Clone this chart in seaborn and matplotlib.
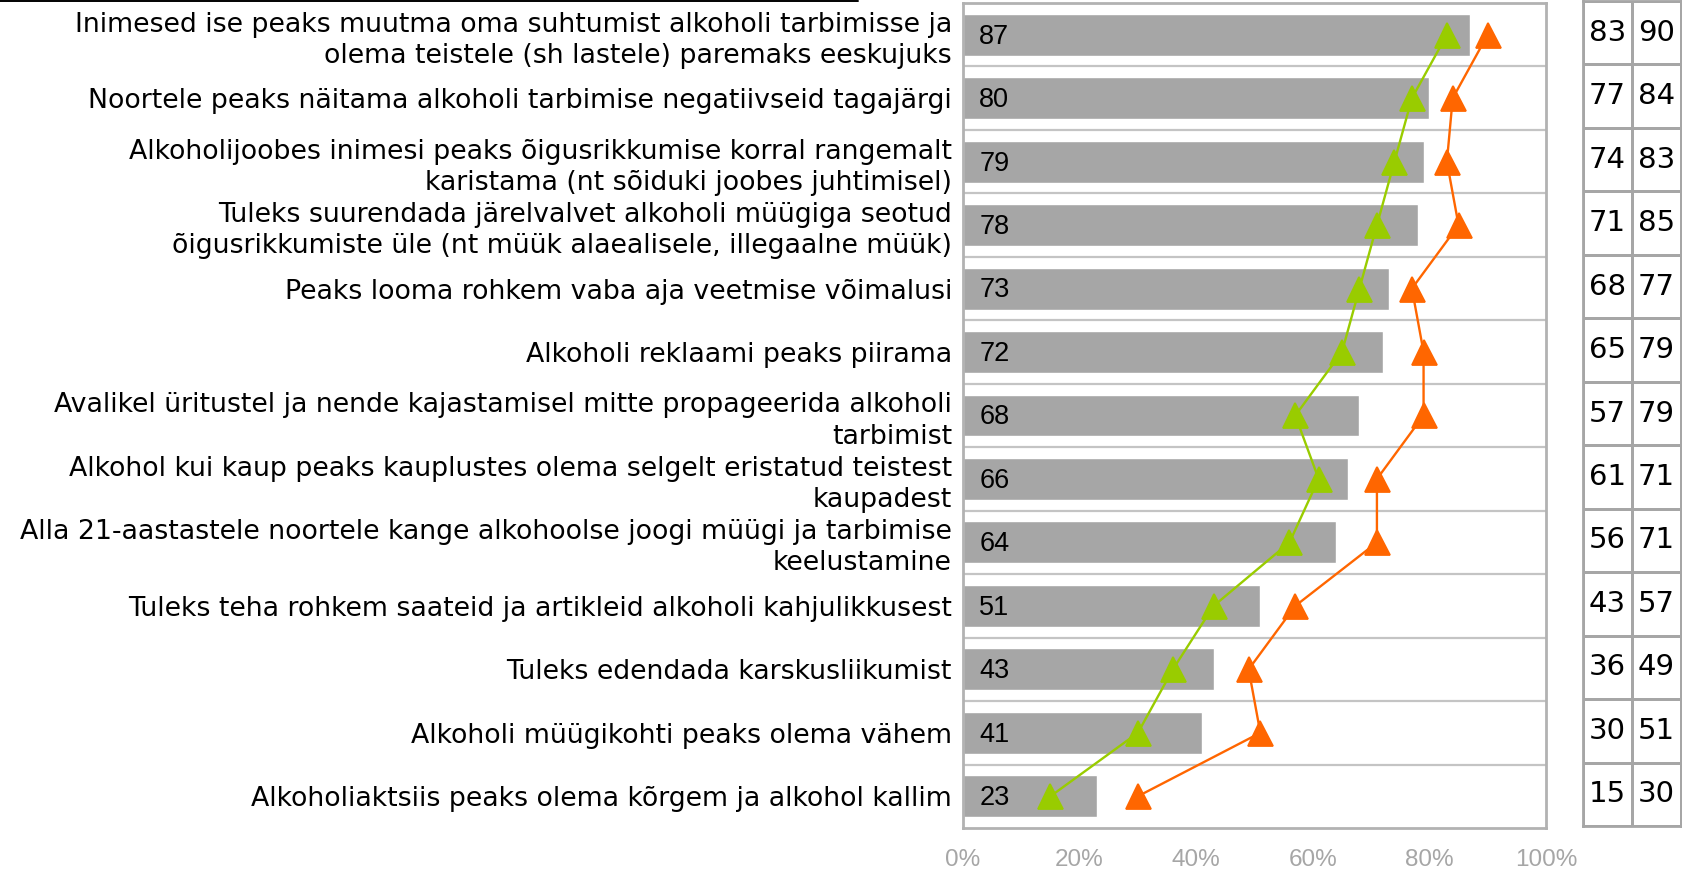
import matplotlib
matplotlib.use("Agg")
import matplotlib.pyplot as plt
from matplotlib.colors import ListedColormap
from matplotlib.lines import Line2D
import pandas as pd
import seaborn as sns

categories = [
    "Inimesed ise peaks muutma oma suhtumist alkoholi tarbimisse ja\nolema teistele (sh lastele) paremaks eeskujuks",
    "Noortele peaks näitama alkoholi tarbimise negatiivseid tagajärgi",
    "Alkoholijoobes inimesi peaks õigusrikkumise korral rangemalt\nkaristama (nt sõiduki joobes juhtimisel)",
    "Tuleks suurendada järelvalvet alkoholi müügiga seotud\nõigusrikkumiste üle (nt müük alaealisele, illegaalne müük)",
    "Peaks looma rohkem vaba aja veetmise võimalusi",
    "Alkoholi reklaami peaks piirama",
    "Avalikel üritustel ja nende kajastamisel mitte propageerida alkoholi\ntarbimist",
    "Alkohol kui kaup peaks kauplustes olema selgelt eristatud teistest\nkaupadest",
    "Alla 21-aastastele noortele kange alkohoolse joogi müügi ja tarbimise\nkeelustamine",
    "Tuleks teha rohkem saateid ja artikleid alkoholi kahjulikkusest",
    "Tuleks edendada karskusliikumist",
    "Alkoholi müügikohti peaks olema vähem",
    "Alkoholiaktsiis peaks olema kõrgem ja alkohol kallim",
]
total = [87, 80, 79, 78, 73, 72, 68, 66, 64, 51, 43, 41, 23]
group_a = [83, 77, 74, 71, 68, 65, 57, 61, 56, 43, 36, 30, 15]
group_b = [90, 84, 83, 85, 77, 79, 79, 71, 71, 57, 49, 51, 30]
x_ticks = [0, 20, 40, 60, 80, 100]

BAR = "#a6a6a6"
GREEN = "#99cc00"
ORANGE = "#ff6600"
FRAME = "#b2b2b2"
GRID = "#c4c4c4"

sns.set_theme(style="white")
plt.rcParams["font.family"] = ["DejaVu Sans"]
plt.rcParams["text.color"] = "black"

W, H = 1682, 872
fig = plt.figure(figsize=(W / 100, H / 100), dpi=100)

# main bar panel
left, right, top, bottom = 963, 1546, 3, 828
ax = fig.add_axes([left / W, 1 - bottom / H, (right - left) / W, (bottom - top) / H])

df = pd.DataFrame({"cat": categories, "total": total, "a": group_a, "b": group_b})

sns.barplot(data=df, x="total", y="cat", order=categories, color=BAR,
            width=0.66, saturation=1, ax=ax, orient="h")
# value labels sit at the start of each bar
for i, v in enumerate(total):
    ax.text(2.8, i + 0.03, str(v), ha="left", va="center", fontsize=19.5,
            family="Liberation Sans", color="black")

sns.pointplot(data=df, x="a", y="cat", order=categories, color=GREEN,
              markers="^", markersize=18, linewidth=1.7, ax=ax, orient="h")
sns.pointplot(data=df, x="b", y="cat", order=categories, color=ORANGE,
              markers="^", markersize=18, linewidth=1.7, ax=ax, orient="h")

ax.set_xlim(0, 100)
ax.set_ylim(len(categories) - 0.5, -0.5)
for k in range(1, len(categories)):
    ax.axhline(k - 0.5, color=GRID, lw=1.6, zorder=0)
ax.set_xticks(x_ticks)
ax.set_xticklabels([f"{v}%" for v in x_ticks], color="#a6a6a6",
                   fontsize=17.5, family="Liberation Sans")
ax.tick_params(axis="x", length=0, pad=15)
ax.tick_params(axis="y", length=0, pad=8, labelsize=19.3, labelcolor="black")
for lbl in ax.get_yticklabels():
    lbl.set_linespacing(1.25)
ax.set_xlabel("")
ax.set_ylabel("")
for s in ax.spines.values():
    s.set_visible(True)
    s.set_color(FRAME)
    s.set_linewidth(2)

# side table with the two group values
tleft, tright = 1583, 1681
tax = fig.add_axes([tleft / W, 1 - 826 / H, (tright - tleft) / W, (826 - 1) / H])
table = pd.DataFrame({"a": group_a, "b": group_b})
sns.heatmap(table, ax=tax, cmap=ListedColormap(["white"]), cbar=False,
            annot=True, fmt="d", annot_kws={"fontsize": 21, "color": "black"},
            linewidths=2, linecolor="#a6a6a6", xticklabels=False, yticklabels=False)
for s in tax.spines.values():
    s.set_visible(True)
    s.set_color("#a6a6a6")
    s.set_linewidth(2)

# rule across the top of the label column
fig.add_artist(Line2D([0, 858 / W], [1 - 1.2 / H, 1 - 1.2 / H], color="black", lw=1.4))

fig.savefig("out.png", dpi=100, facecolor="white")
